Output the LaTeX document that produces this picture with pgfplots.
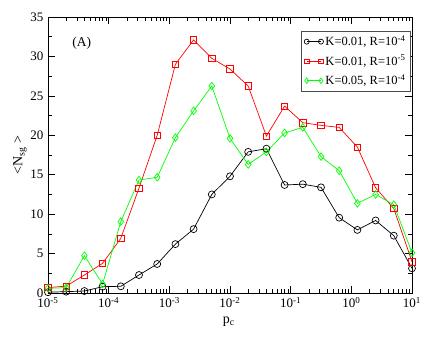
\documentclass[border=0pt]{standalone}
\usepackage{fontspec}
\setmainfont{Liberation Serif}
\usepackage{pgfplots}
\usepackage{pgfplotstable}
\pgfplotsset{compat=1.18}
\pgfplotstableread{
x        k1     k2     k3
1e-5     0.10   0.68   0.59
1.995e-5 0.17   0.88   0.68
3.981e-5 0.25   2.28   4.73
7.943e-5 0.80   3.76   1.14
1.585e-4 0.85   6.93   9.05
3.162e-4 2.28   13.3   14.33
6.310e-4 3.68   20.0   14.67
1.259e-3 6.20   29.0   19.7
2.512e-3 8.10   32.1   23.1
5.012e-3 12.5   29.76  26.25
1e-2     14.8   28.4   19.6
1.995e-2 17.9   26.25  16.3
3.981e-2 18.3   19.9   17.9
7.943e-2 13.7   23.7   20.3
0.1585   13.8   21.6   21.0
0.3162   13.4   21.26  17.3
0.6310   9.55   21.0   15.5
1.259    8.0    18.5   11.37
2.512    9.2    13.35  12.5
5.012    7.27   10.7   11.2
10       3.13   3.97   5.1
}\datatable
\begin{document}
\fontsize{13}{15}\selectfont
\begin{tikzpicture}
\useasboundingbox (-48pt,-44pt) rectangle (388pt,293pt);
\begin{axis}[
  at={(0pt,0pt)}, anchor=south west,
  scale only axis, width=364pt, height=276pt,
  xmode=log, xmin=1e-5, xmax=10, ymin=0, ymax=35,
  ytick={0,5,...,35}, minor y tick num=1,
  xticklabel={\pgfmathparse{int(round(\tick/ln(10)))}10\textsuperscript{\pgfmathresult}},
  /pgf/number format/assume math mode=true,
  tick label style={font=\fontsize{13}{15}\selectfont},
  major tick length=7pt, minor tick length=4pt,
  tick style={black, line width=0.6pt},
  axis line style={line width=0.8pt},
  xlabel={p\textsubscript{c}},
  ylabel={<N\textsubscript{sg} >},
  xlabel style={at={(axis description cs:0.497,-0.105)}, anchor=center, font=\fontsize{14}{16}\selectfont},
  ylabel style={at={(axis description cs:-0.077,0.5)}, anchor=center, font=\fontsize{14}{16}\selectfont},
  legend style={at={(0.995,0.95)}, anchor=north east, draw=black!70, line width=0.6pt,
    font=\fontsize{12.5}{14}\selectfont, cells={anchor=west}, inner sep=2.5pt, row sep=3.5pt},
  legend image code/.code={\draw[#1, every mark/.append style={scale=0.72}] plot coordinates {(0cm,0cm) (0.5cm,0cm)};},
  every axis plot/.append style={line width=0.7pt},
]
\addplot[black, mark=o, mark size=3.5pt, mark options={solid}] table[x=x,y=k1] {\datatable};
\addlegendentry{K=0.01, R=10\textsuperscript{-4}}
\addplot[red, mark=square, mark size=3.2pt] table[x=x,y=k2] {\datatable};
\addlegendentry{K=0.01, R=10\textsuperscript{-5}}
\addplot[green, mark=diamond, mark size=3.8pt] table[x=x,y=k3] {\datatable};
\addlegendentry{K=0.05, R=10\textsuperscript{-4}}
\node[font=\fontsize{13.5}{15}\selectfont] at (axis cs:3.6e-5,31.7) {(A)};
\end{axis}
\end{tikzpicture}
\end{document}
